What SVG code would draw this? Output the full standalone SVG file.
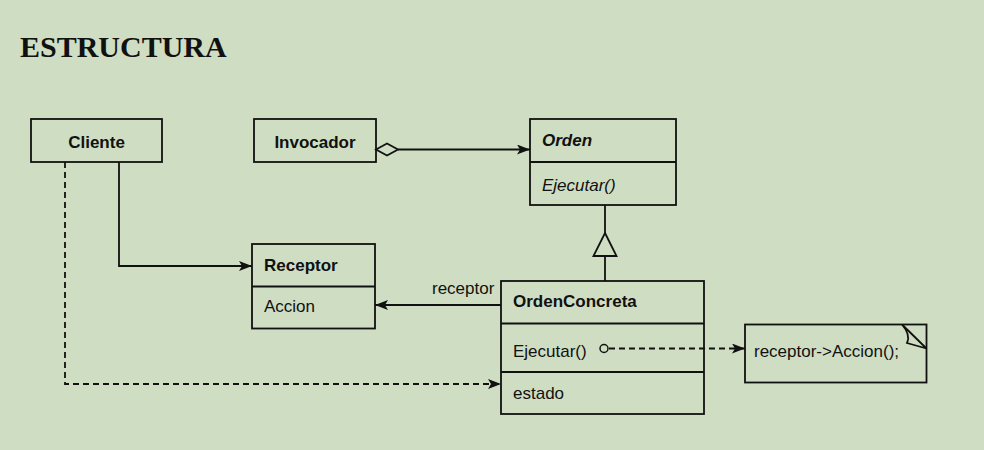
<svg xmlns="http://www.w3.org/2000/svg" width="984" height="450" viewBox="0 0 984 450">
<style>
.box{fill:none;stroke:#111;stroke-width:1.8}
.ln{fill:none;stroke:#111;stroke-width:1.8}
.dash{fill:none;stroke:#111;stroke-width:1.8;stroke-dasharray:6,4}
.t{font-family:"Liberation Sans",Arial,sans-serif;font-size:17px;fill:#111}
.b{font-weight:bold}
.i{font-style:italic}
.title{font-family:"Liberation Serif","Times New Roman",serif;font-size:30px;font-weight:bold;fill:#111}
</style>
<defs>
<marker id="arr" viewBox="0 0 13 10" refX="13" refY="5" markerWidth="13" markerHeight="10" markerUnits="userSpaceOnUse" orient="auto">
<path d="M0,0 L13,5 L0,10 L3,5 z" fill="#111"/>
</marker>
</defs>
<rect width="984" height="450" fill="#cfdec3"/>
<text class="title" x="20" y="57">ESTRUCTURA</text>

<g id="connectors">
<path class="ln" d="M398,149.5 L530,149.5" marker-end="url(#arr)"/>
<path d="M376,149.5 L387,143.5 L398,149.5 L387,155.5 z" fill="#cfdec3" stroke="#111" stroke-width="1.8"/>
<path class="ln" d="M605,205 L605,233 M605,256 L605,281"/>
<path d="M605,233 L616.5,256 L593.5,256 z" fill="#cfdec3" stroke="#111" stroke-width="1.8"/>
<path class="ln" d="M119,162 L119,266 L252,266" marker-end="url(#arr)"/>
<path class="ln" d="M501,305 L375,305" marker-end="url(#arr)"/>
<text class="t" x="432" y="294">receptor</text>
<path class="dash" d="M65,162 L65,384 L501,384" marker-end="url(#arr)"/>
<circle cx="604" cy="348.5" r="4" fill="#cfdec3" stroke="#111" stroke-width="1.5"/>
<path class="dash" d="M609,348.5 L745,348.5" marker-end="url(#arr)"/>
</g>

<g id="cliente">
<rect class="box" x="31" y="119" width="131" height="43"/>
<text class="t b" x="96.5" y="148" text-anchor="middle">Cliente</text>
</g>
<g id="invocador">
<rect class="box" x="254" y="119" width="122" height="43"/>
<text class="t b" x="315" y="148" text-anchor="middle">Invocador</text>
</g>
<g id="orden">
<rect class="box" x="530" y="119" width="146" height="86"/>
<line class="ln" x1="530" y1="162" x2="676" y2="162"/>
<text class="t b i" x="542" y="146">Orden</text>
<text class="t i" x="542" y="191">Ejecutar()</text>
</g>
<g id="receptor">
<rect class="box" x="252" y="244" width="123" height="84.5"/>
<line class="ln" x1="252" y1="286.5" x2="375" y2="286.5"/>
<text class="t b" x="264" y="271">Receptor</text>
<text class="t" x="264" y="312">Accion</text>
</g>
<g id="ordenconcreta">
<rect class="box" x="501" y="281" width="203" height="133"/>
<line class="ln" x1="501" y1="323.5" x2="704" y2="323.5"/>
<line class="ln" x1="501" y1="372" x2="704" y2="372"/>
<text class="t b" x="513" y="307">OrdenConcreta</text>
<text class="t" x="513" y="357">Ejecutar()</text>
<text class="t" x="513" y="399">estado</text>
</g>
<g id="nota">
<rect class="box" x="745" y="324.5" width="181.5" height="58"/>
<path class="ln" d="M902,324.5 L926.5,348.5 M902,324.5 Q911,335 907,343 L926.5,348.5"/>
<text class="t" x="754" y="357">receptor-&gt;Accion();</text>
</g>
</svg>
